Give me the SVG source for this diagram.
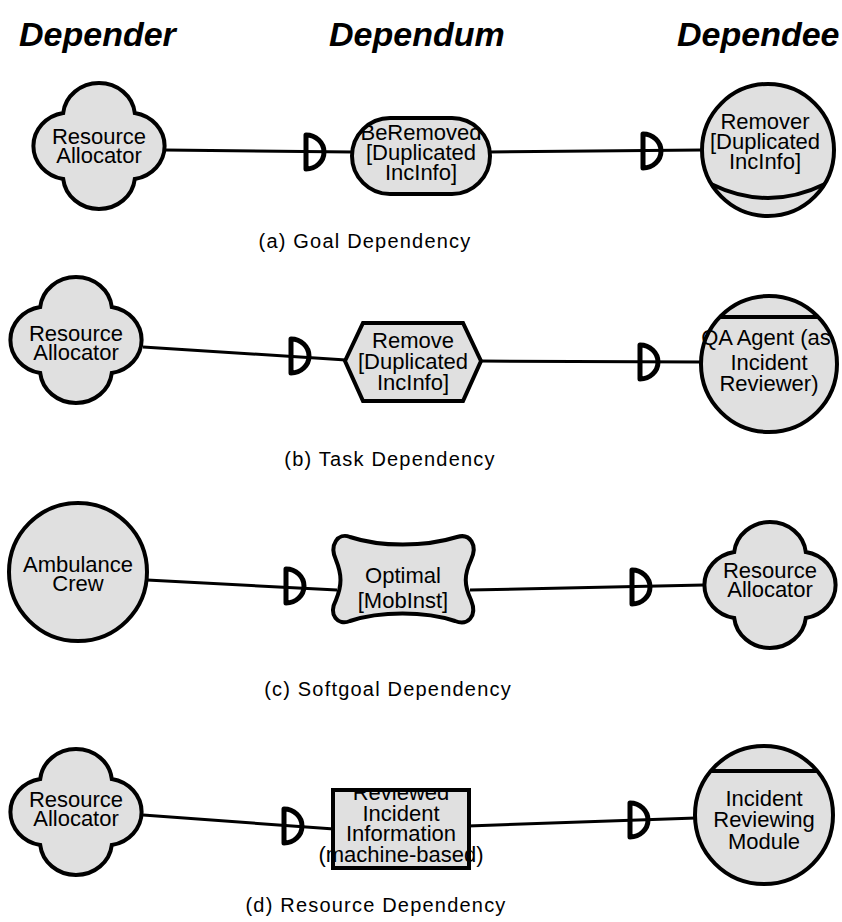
<svg xmlns="http://www.w3.org/2000/svg" xmlns:xlink="http://www.w3.org/1999/xlink" width="842" height="922" viewBox="0 0 842 922">
<style>
  .bg{fill:#ffffff}
  .fill{fill:#e0e0e0;stroke:none}
  .line{fill:none;stroke:#000;stroke-width:4}
  .conn{fill:none;stroke:#000;stroke-width:3}
  .dsym{fill:none;stroke:#000;stroke-width:5;stroke-linejoin:round}
  .hdr{font-family:"Liberation Sans",Arial,sans-serif;font-size:34px;font-weight:bold;font-style:italic;fill:#000}
  .t{font-family:"Liberation Sans",Arial,sans-serif;font-size:22px;text-anchor:middle;fill:#000}
  .cap{font-family:"Liberation Sans",Arial,sans-serif;font-size:20px;letter-spacing:1.2px;text-anchor:middle;fill:#000}
</style>
<defs>
  <path id="cloud" d="M35.8,-33 A36,33.5 0 0 1 35.8,33 A36,33.5 0 0 1 -35.8,33 A36,33.5 0 0 1 -35.8,-33 A36,33.5 0 0 1 35.8,-33 Z"/>
  <path id="dep" d="M0,-17 A18,17 0 0 1 0,17 Z"/>
  <rect id="goalShape" x="352" y="118" width="138" height="76" rx="38" ry="38"/>
  <polygon id="taskShape" points="345,361 363,323 463,323 481,361 463,401 363,401"/>
  <path id="softShape" d="M350,537 C380,547 425,547 457,537 C470,533 478,545 471,560 C464,575 464,585 471,600 C478,617 467,626 455,621 C425,611 380,611 350,621 C338,626 328,615 336,600 C342,585 342,575 336,560 C329,545 338,532 350,537 Z"/>
  <rect id="resShape" x="333" y="790" width="136" height="78"/>
  <clipPath id="goalClip"><use xlink:href="#goalShape"/></clipPath>
  <clipPath id="qaClip"><rect x="600" y="290" width="232" height="150"/></clipPath>
  <clipPath id="resClip"><rect x="280" y="791" width="240" height="90"/></clipPath>
</defs>
<rect class="bg" x="0" y="0" width="842" height="922"/>

<g id="headers">
  <text class="hdr" x="19" y="46">Depender</text>
  <text class="hdr" x="329" y="46">Dependum</text>
  <text class="hdr" x="677" y="46">Dependee</text>
</g>

<g id="connectors">
  <line class="conn" x1="165" y1="150" x2="353" y2="152"/>
  <line class="conn" x1="489" y1="152" x2="702" y2="150"/>
  <use class="dsym" xlink:href="#dep" transform="translate(306,152)"/>
  <use class="dsym" xlink:href="#dep" transform="translate(643,151)"/>

  <line class="conn" x1="143" y1="347" x2="346" y2="360"/>
  <line class="conn" x1="480" y1="361" x2="702" y2="362"/>
  <use class="dsym" xlink:href="#dep" transform="translate(291,356)"/>
  <use class="dsym" xlink:href="#dep" transform="translate(640,362)"/>

  <line class="conn" x1="147" y1="580" x2="337" y2="590"/>
  <line class="conn" x1="470" y1="590" x2="704" y2="585"/>
  <use class="dsym" xlink:href="#dep" transform="translate(286,586)"/>
  <use class="dsym" xlink:href="#dep" transform="translate(632,587)"/>

  <line class="conn" x1="143" y1="815" x2="334" y2="829"/>
  <line class="conn" x1="468" y1="826" x2="696" y2="818"/>
  <use class="dsym" xlink:href="#dep" transform="translate(284,826)"/>
  <use class="dsym" xlink:href="#dep" transform="translate(630,820)"/>
</g>

<g id="a_depender">
  <use class="fill" xlink:href="#cloud" transform="translate(99,146)"/>
  <use class="line" xlink:href="#cloud" transform="translate(99,146)"/>
  <text class="t" x="99" y="144">Resource</text>
  <text class="t" x="99" y="163">Allocator</text>
</g>
<g id="a_dependum">
  <use class="fill" xlink:href="#goalShape"/>
  <g clip-path="url(#goalClip)">
    <text class="t" x="421" y="140">BeRemoved</text>
    <text class="t" x="421" y="160">[Duplicated</text>
    <text class="t" x="421" y="180">IncInfo]</text>
  </g>
  <use class="line" xlink:href="#goalShape"/>
</g>
<g id="a_dependee">
  <circle class="fill" cx="768" cy="150" r="66"/>
  <text class="t" x="765" y="129">Remover</text>
  <text class="t" x="765" y="149">[Duplicated</text>
  <text class="t" x="765" y="169">IncInfo]</text>
  <circle class="line" cx="768" cy="150" r="66"/>
  <path class="line" d="M711,184 Q768,212 825,184"/>
</g>
<text class="cap" x="365" y="248">(a) Goal Dependency</text>

<g id="b_depender">
  <use class="fill" xlink:href="#cloud" transform="translate(76,340)"/>
  <use class="line" xlink:href="#cloud" transform="translate(76,340)"/>
  <text class="t" x="76" y="341">Resource</text>
  <text class="t" x="76" y="360">Allocator</text>
</g>
<g id="b_dependum">
  <use class="fill" xlink:href="#taskShape"/>
  <text class="t" x="413" y="348">Remove</text>
  <text class="t" x="413" y="369">[Duplicated</text>
  <text class="t" x="413" y="390">IncInfo]</text>
  <use class="line" xlink:href="#taskShape"/>
</g>
<g id="b_dependee">
  <circle class="fill" cx="769" cy="364" r="68"/>
  <g clip-path="url(#qaClip)">
    <text class="t" x="766" y="345">QA Agent (as</text>
  </g>
  <text class="t" x="769" y="370">Incident</text>
  <text class="t" x="769" y="391">Reviewer)</text>
  <circle class="line" cx="769" cy="364" r="68"/>
  <line class="line" x1="720" y1="317" x2="818" y2="317"/>
</g>
<text class="cap" x="390" y="466">(b) Task Dependency</text>

<g id="c_depender">
  <circle class="fill" cx="78" cy="572" r="69"/>
  <text class="t" x="78" y="572">Ambulance</text>
  <text class="t" x="78" y="591">Crew</text>
  <circle class="line" cx="78" cy="572" r="69"/>
</g>
<g id="c_dependum">
  <use class="fill" xlink:href="#softShape"/>
  <text class="t" x="403" y="583">Optimal</text>
  <text class="t" x="403" y="608">[MobInst]</text>
  <use class="line" xlink:href="#softShape"/>
</g>
<g id="c_dependee">
  <use class="fill" xlink:href="#cloud" transform="translate(770,585)"/>
  <use class="line" xlink:href="#cloud" transform="translate(770,585)"/>
  <text class="t" x="770" y="578">Resource</text>
  <text class="t" x="770" y="597">Allocator</text>
</g>
<text class="cap" x="388" y="696">(c) Softgoal Dependency</text>

<g id="d_depender">
  <use class="fill" xlink:href="#cloud" transform="translate(76,812)"/>
  <use class="line" xlink:href="#cloud" transform="translate(76,812)"/>
  <text class="t" x="76" y="807">Resource</text>
  <text class="t" x="76" y="826">Allocator</text>
</g>
<g id="d_dependum">
  <use class="fill" xlink:href="#resShape"/>
  <g clip-path="url(#resClip)">
    <text class="t" x="401" y="800">Reviewed</text>
  </g>
  <text class="t" x="401" y="821">Incident</text>
  <text class="t" x="401" y="841">Information</text>
  <text class="t" x="401" y="862">(machine-based)</text>
  <use class="line" xlink:href="#resShape"/>
</g>
<g id="d_dependee">
  <circle class="fill" cx="764" cy="815" r="69"/>
  <text class="t" x="764" y="806">Incident</text>
  <text class="t" x="764" y="827">Reviewing</text>
  <text class="t" x="764" y="849">Module</text>
  <circle class="line" cx="764" cy="815" r="69"/>
  <line class="line" x1="711" y1="771" x2="817" y2="771"/>
</g>
<text class="cap" x="376" y="912">(d) Resource Dependency</text>
</svg>
